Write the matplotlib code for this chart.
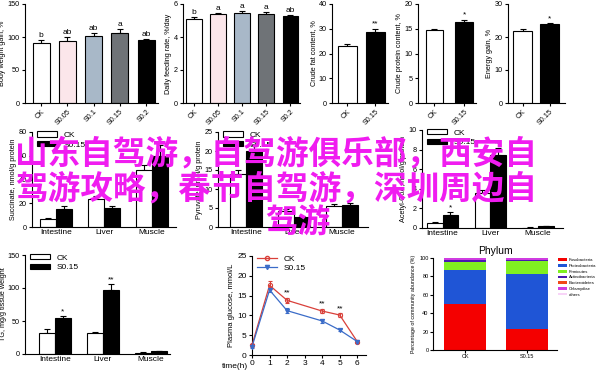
import matplotlib
matplotlib.use('Agg')
import matplotlib.pyplot as plt
from matplotlib.patches import Patch
from matplotlib.lines import Line2D
import numpy as np

plt.rcParams['font.family'] = ['Liberation Sans', 'DejaVu Sans']

# linha 1: crescimento
grupos5 = ['CK', 'S0.05', 'S0.1', 'S0.15', 'S0.2']
peso_ganho = [91, 94, 102, 106, 95]
peso_erro = [4, 6, 4, 6, 2]
peso_letras = ['b', 'ab', 'ab', 'a', 'ab']
alimentacao = [5.1, 5.4, 5.45, 5.4, 5.25]
alimentacao_erro = [0.1, 0.06, 0.1, 0.1, 0.06]
alimentacao_letras = ['b', 'a', 'a', 'a', 'ab']

grupos2 = ['CK', 'S0.15']
gordura = [23.2, 28.8]
gordura_erro = [0.5, 1.2]
proteina = [14.8, 16.3]
proteina_erro = [0.1, 0.5]
energia = [21.9, 23.8]
energia_erro = [0.4, 0.4]

# linha 2 e 3: tecidos
tecidos = ['Intestine', 'Liver', 'Muscle']
succinato_ck = [7, 24, 48]
succinato_ck_erro = [0.6, 2, 4]
succinato_s = [15, 16, 60]
succinato_s_erro = [2.5, 2, 9]
piruvato_ck = [14, 4.2, 5.5]
piruvato_ck_erro = [1, 0.5, 0.6]
piruvato_s = [20, 2.6, 5.8]
piruvato_s_erro = [1.5, 0.4, 0.5]
acetil_ck = [0.55, 3.6, 0.05]
acetil_ck_erro = [0.05, 0.3, 0.02]
acetil_s = [1.3, 7.4, 0.2]
acetil_s_erro = [0.3, 0.8, 0.05]
tg_ck = [32, 32, 2]
tg_ck_erro = [6, 2, 0.5]
tg_s = [54, 97, 4]
tg_s_erro = [4, 9, 1]

# glicose
tempo = [0, 1, 2, 4, 5, 6]
glicose_ck = [2.5, 17.6, 13.8, 11.1, 10.1, 3.4]
glicose_ck_erro = [0.4, 1.0, 0.6, 0.5, 0.4, 0.3]
glicose_s = [2.1, 16.4, 11.2, 8.6, 6.3, 3.4]
glicose_s_erro = [0.3, 0.6, 0.6, 0.6, 0.3, 0.3]

# filo
filos = ['Fusobacteria', 'Proteobacteria', 'Firmicutes', 'Actinobacteria',
         'Bacteroidetes', 'Chlamydiae', 'others']
filo_ck = [50, 36.5, 9.5, 2.0, 0.3, 1.2, 0.5]
filo_s = [23, 60, 14, 0.8, 0.3, 1.4, 0.5]
cores_filo = ['#f40000', '#1f55d6', '#80f020', '#4a18b0', '#f04818', '#cf3ce0', '#f8d4f8']

marca_agua = ['山东自驾游，自驾游俱乐部，西安自', '驾游攻略，春节自驾游，深圳周边自', '驾游']

W, H = 600, 372
fig = plt.figure(figsize=(W / 100, H / 100), dpi=100)


def eixo(x0, x1, yt, yb):
    ax = fig.add_axes([x0 / W, 1 - yb / H, (x1 - x0) / W, (yb - yt) / H])
    ax.spines['top'].set_visible(False)
    ax.spines['right'].set_visible(False)
    for s in ['left', 'bottom']:
        ax.spines[s].set_linewidth(0.8)
    ax.tick_params(width=0.8, length=2.5, labelsize=5.2, pad=1.2)
    return ax


def erros(ax, x, y, e):
    ax.errorbar(x, y, yerr=[np.zeros(len(e)), e], fmt='none', ecolor='black',
                elinewidth=0.8, capsize=2.2, capthick=0.8, zorder=1)


def barras_simples(ax, valores, erro, cores, nomes, largura, ylim, yticks, ylabel, marcas, xlim):
    x = np.arange(len(valores))
    erros(ax, x, valores, erro)
    ax.bar(x, valores, width=largura, color=cores, edgecolor='black', linewidth=0.8, zorder=2)
    for i in range(len(valores)):
        ax.text(x[i], valores[i] + erro[i] + ylim * 0.01, marcas[i], ha='center', va='bottom', fontsize=6)
    ax.set_ylim(0, ylim)
    ax.set_yticks(yticks)
    ax.set_xlim(*xlim)
    ax.set_xticks(x)
    ax.set_xticklabels(nomes, rotation=45, ha='right', rotation_mode='anchor')
    ax.set_ylabel(ylabel, fontsize=5.2, labelpad=1)


cores5 = ['white', '#fbe6ea', '#a8b8c8', '#6f7377', 'black']
ax1 = eixo(25, 158, 4, 103)
barras_simples(ax1, peso_ganho, peso_erro, cores5, grupos5, 0.65, 150, [0, 50, 100, 150],
               'Body weight gain, %', peso_letras, (-0.62, 4.45))
ax2 = eixo(183, 300, 4, 103)
barras_simples(ax2, alimentacao, alimentacao_erro, cores5, grupos5, 0.65, 6, [0, 2, 4, 6],
               'Daily feeding rate, %/day', alimentacao_letras, (-0.45, 4.4))
ax3 = eixo(332, 388, 4, 103)
barras_simples(ax3, gordura, gordura_erro, ['white', 'black'], grupos2, 0.68, 40, [0, 10, 20, 30, 40],
               'Crude fat content, %', ['', '**'], (-0.55, 1.45))
ax4 = eixo(418, 476, 4, 103)
barras_simples(ax4, proteina, proteina_erro, ['white', 'black'], grupos2, 0.58, 20, [0, 5, 10, 15, 20],
               'Crude protein content, %', ['', '*'], (-0.55, 1.4))
ax5 = eixo(508, 565, 4, 103)
barras_simples(ax5, energia, energia_erro, ['white', 'black'], grupos2, 0.69, 30, [0, 10, 20, 30],
               'Energy gain, %', ['', '*'], (-0.53, 1.55))


def barras_grupo(ax, ck, ck_e, s, s_e, ylim, yticks, ylabel, xlim, marcas):
    x = np.arange(len(tecidos))
    w = 0.33
    erros(ax, x - w / 2, ck, ck_e)
    erros(ax, x + w / 2, s, s_e)
    ax.bar(x - w / 2, ck, width=w, color='white', edgecolor='black', linewidth=0.8, zorder=2)
    ax.bar(x + w / 2, s, width=w, color='black', edgecolor='black', linewidth=0.8, zorder=2)
    for i in range(len(x)):
        ax.text(x[i] + w / 2, s[i] + s_e[i] + ylim * 0.005, marcas[i], ha='center', va='bottom', fontsize=6)
    ax.set_ylim(0, ylim)
    ax.set_yticks(yticks)
    ax.set_xlim(*xlim)
    ax.set_xticks(x)
    ax.set_xticklabels(tecidos)
    ax.tick_params(axis='x', length=0, labelsize=6)
    ax.set_ylabel(ylabel, fontsize=5.2, labelpad=1)
    handles = [Patch(facecolor='white', edgecolor='black', linewidth=0.8),
               Patch(facecolor='black', edgecolor='black', linewidth=0.8)]
    ax.legend(handles, ['CK', 'S0.15'], loc='upper left', bbox_to_anchor=(0.0, 1.06), frameon=False,
              fontsize=6, handlelength=2.4, handleheight=0.6, labelspacing=0.25, borderaxespad=0.2)


ax6 = eixo(32, 176, 132, 227)
barras_grupo(ax6, succinato_ck, succinato_ck_erro, succinato_s, succinato_s_erro, 80, [0, 20, 40, 60, 80],
             'Succinate, nmol/g protein', (-0.5, 2.5), ['', '', ''])
ax7 = eixo(218, 368, 132, 227)
barras_grupo(ax7, piruvato_ck, piruvato_ck_erro, piruvato_s, piruvato_s_erro, 25, [0, 5, 10, 15, 20, 25],
             'Pyruvate, nmol/g protein', (-0.58, 2.54), ['', '', ''])
ax8 = eixo(422, 563, 130, 228)
barras_grupo(ax8, acetil_ck, acetil_ck_erro, acetil_s, acetil_s_erro, 10, [0, 2, 4, 6, 8, 10],
             'Acetyl-CoA, nmol/g protein', (-0.43, 2.52), ['*', '**', ''])
ax9 = eixo(25, 170, 255, 354)
barras_grupo(ax9, tg_ck, tg_ck_erro, tg_s, tg_s_erro, 150, [0, 50, 100, 150],
             'TG, mg/g tissue weight', (-0.62, 2.4), ['*', '**', ''])
ax9.yaxis.labelpad = 0.5

# glicose
ax10 = eixo(252, 366, 256, 355)
ax10.errorbar(tempo, glicose_ck, yerr=glicose_ck_erro, color='#d9403a', marker='o', markersize=3,
              markerfacecolor='none', markeredgewidth=0.8, linewidth=0.9, capsize=1.5, elinewidth=0.8,
              clip_on=False, zorder=3)
ax10.errorbar(tempo, glicose_s, yerr=glicose_s_erro, color='#3b6cc8', marker='v', markersize=3,
              markeredgewidth=0.8, linewidth=0.9, capsize=1.5, elinewidth=0.8, clip_on=False, zorder=3)
for t, v, e in zip([2, 4, 5], [13.8, 11.1, 10.1], [0.6, 0.5, 0.4]):
    ax10.text(t, v + e + 0.3, '**', ha='center', va='bottom', fontsize=6)
ax10.set_xlim(0, 6.5)
ax10.set_ylim(0, 25)
ax10.set_xticks(range(7))
ax10.set_yticks([0, 5, 10, 15, 20, 25])
ax10.tick_params(labelsize=6)
ax10.set_ylabel('Plasma glucose, mmol/L', fontsize=5.5, labelpad=1.5)
ax10.text(-0.25, -1.9, 'time(h)', ha='right', va='top', fontsize=6)
ax10.legend([Line2D([], [], color='#d9403a', marker='o', markerfacecolor='none', markersize=3, linewidth=0.9),
             Line2D([], [], color='#3b6cc8', marker='v', markersize=3, linewidth=0.9)],
            ['CK', 'S0.15'], loc='upper left', bbox_to_anchor=(0.0, 1.06), frameon=False, fontsize=6,
            handlelength=2.4, labelspacing=0.2, borderaxespad=0.2)

# filo
ax11 = eixo(433, 557, 258, 350)
base_ck = 0
base_s = 0
for i in range(len(filos)):
    ax11.bar([0, 1], [filo_ck[i], filo_s[i]], bottom=[base_ck, base_s], width=0.68,
             color=cores_filo[i], label=filos[i], zorder=2)
    base_ck += filo_ck[i]
    base_s += filo_s[i]
ax11.set_xlim(-0.52, 1.48)
ax11.set_ylim(0, 100)
ax11.set_xticks([0, 1])
ax11.set_xticklabels(grupos2)
ax11.set_yticks([0, 20, 40, 60, 80, 100])
ax11.tick_params(labelsize=4, length=2)
ax11.set_ylabel('Percentage of community abundance (%)', fontsize=3.8, labelpad=2)
ax11.set_title('Phylum', fontsize=7.5, pad=3)
ax11.legend(loc='upper left', bbox_to_anchor=(0.99, 1.02), frameon=False, fontsize=3.1,
            handlelength=2.0, handleheight=0.6, handletextpad=0.5, labelspacing=0.4, borderaxespad=0.1)

# texto sobreposto
linhas_y = [154, 189, 222]
linhas_x = [15, 15, 265]
for texto, x, y in zip(marca_agua, linhas_x, linhas_y):
    fig.text(x / W, 1 - y / H, texto, ha='left', va='center', fontsize=23.5, color='#f01cf0',
             family=['Noto Sans CJK SC', 'DejaVu Sans'], weight='bold', zorder=10)

fig.savefig('out.png', dpi=100)
